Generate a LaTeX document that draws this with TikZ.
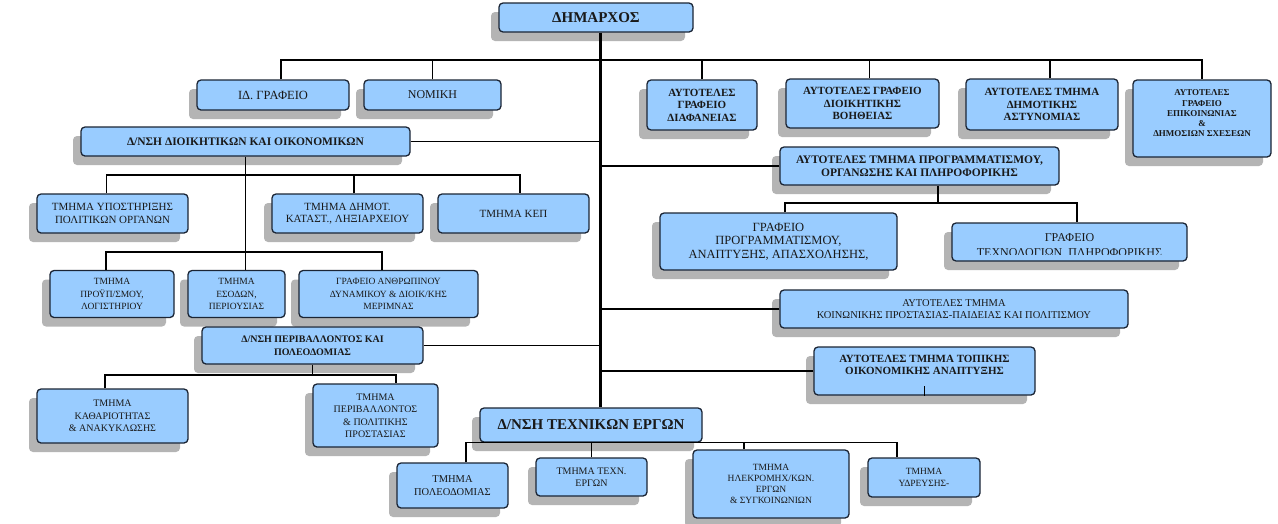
\documentclass[tikz,border=0pt]{standalone}
\usepackage{fontspec}
\setmainfont{Liberation Serif}
\usetikzlibrary{shadows}
\definecolor{boxfill}{HTML}{99CCFF}
\definecolor{boxline}{HTML}{1B2535}
\definecolor{shadowgrey}{HTML}{B4B4B4}
\tikzset{
  box/.style={draw=boxline, line width=1.3pt, fill=boxfill, rounded corners=4pt,
    inner sep=1pt, align=center, text=black!90,
    drop shadow={shadow xshift=-8pt, shadow yshift=-9pt, fill=shadowgrey, opacity=1}},
  conn/.style={line width=1.2pt, black},
  trunk/.style={line width=3pt, black},
  fb/.style 2 args={font=\fontsize{#1}{#2}\selectfont\bfseries},
  fr/.style 2 args={font=\fontsize{#1}{#2}\selectfont},
}
\begin{document}
\begin{tikzpicture}[x=1pt,y=-1pt]
\useasboundingbox (0,0) rectangle (1278,523);
\fill[white] (0,0) rectangle (1278,523);

% top level
\node[box, fb={15}{17}, minimum width=194pt, minimum height=29pt] (dim) at (596,17.5) {ΔΗΜΑΡΧΟΣ};
\node[box, fr={12.5}{14}, minimum width=152pt, minimum height=30pt] (idg) at (273,95) {ΙΔ. ΓΡΑΦΕΙΟ};
\node[box, fr={12}{14}, minimum width=137pt, minimum height=30pt] (nom) at (432.5,95) {ΝΟΜΙΚΗ};
\node[box, fb={11}{12.5}, minimum width=110pt, minimum height=50pt] (diaf) at (702,105) {ΑΥΤΟΤΕΛΕΣ\\ΓΡΑΦΕΙΟ\\ΔΙΑΦΑΝΕΙΑΣ};
\node[box, fb={11}{12.5}, minimum width=153pt, minimum height=49pt] (dioik) at (862.5,103.5) {ΑΥΤΟΤΕΛΕΣ ΓΡΑΦΕΙΟ\\ΔΙΟΙΚΗΤΙΚΗΣ\\ΒΟΗΘΕΙΑΣ};
\node[box, fb={11}{12.5}, minimum width=152pt, minimum height=51pt] (ast) at (1042,104.5) {ΑΥΤΟΤΕΛΕΣ ΤΜΗΜΑ\\ΔΗΜΟΤΙΚΗΣ\\ΑΣΤΥΝΟΜΙΑΣ};
\node[box, fb={9}{10.3}, minimum width=138pt, minimum height=77pt] (epik) at (1202,118.5) {ΑΥΤΟΤΕΛΕΣ\\ΓΡΑΦΕΙΟ\\ΕΠΙΚΟΙΝΩΝΙΑΣ\\\&\\ΔΗΜΟΣΙΩΝ ΣΧΕΣΕΩΝ\\};

% left directorate 1
\node[box, fb={11.5}{13}, minimum width=329pt, minimum height=29pt] (ddo) at (245.5,141.5) {Δ/ΝΣΗ ΔΙΟΙΚΗΤΙΚΩΝ ΚΑΙ ΟΙΚΟΝΟΜΙΚΩΝ};
\node[box, fr={11}{12.5}, minimum width=151pt, minimum height=39pt] (ypo) at (112.5,213.5) {ΤΜΗΜΑ ΥΠΟΣΤΗΡΙΞΗΣ\\ΠΟΛΙΤΙΚΩΝ ΟΡΓΑΝΩΝ};
\node[box, fr={11}{12.5}, minimum width=151pt, minimum height=39pt] (dhm) at (347.5,213.5) {ΤΜΗΜΑ ΔΗΜΟΤ.\\ΚΑΤΑΣΤ., ΛΗΞΙΑΡΧΕΙΟΥ};
\node[box, fr={11}{12.5}, minimum width=151pt, minimum height=39pt] (kep) at (513.5,213.5) {ΤΜΗΜΑ ΚΕΠ};
\node[box, fr={9.5}{12.5}, minimum width=124pt, minimum height=47pt] (prou) at (112,294) {ΤΜΗΜΑ\\ΠΡΟΫΠ/ΣΜΟΥ,\\ΛΟΓΙΣΤΗΡΙΟΥ};
\node[box, fr={9.5}{12.5}, minimum width=97pt, minimum height=47pt] (esod) at (236.5,294) {ΤΜΗΜΑ\\ΕΣΟΔΩΝ,\\ΠΕΡΙΟΥΣΙΑΣ};
\node[box, fr={9.5}{12.5}, minimum width=179pt, minimum height=47pt] (anthr) at (388.5,294) {ΓΡΑΦΕΙΟ ΑΝΘΡΩΠΙΝΟΥ\\ΔΥΝΑΜΙΚΟΥ \& ΔΙΟΙΚ/ΚΗΣ\\ΜΕΡΙΜΝΑΣ};

% left directorate 2
\node[box, fb={10}{13}, minimum width=221pt, minimum height=37pt] (per) at (312.5,345.5) {Δ/ΝΣΗ ΠΕΡΙΒΑΛΛΟΝΤΟΣ ΚΑΙ\\ΠΟΛΕΟΔΟΜΙΑΣ};
\node[box, fr={10}{12.5}, minimum width=151pt, minimum height=54pt] (kath) at (112.5,416) {ΤΜΗΜΑ\\ΚΑΘΑΡΙΟΤΗΤΑΣ\\\& ΑΝΑΚΥΚΛΩΣΗΣ};
\node[box, fr={10}{12.5}, minimum width=125pt, minimum height=63pt] (ptm) at (375.5,415.5) {ΤΜΗΜΑ\\ΠΕΡΙΒΑΛΛΟΝΤΟΣ\\\& ΠΟΛΙΤΙΚΗΣ\\ΠΡΟΣΤΑΣΙΑΣ};

% right side
\node[box, fb={11.5}{12.5}, minimum width=279pt, minimum height=38pt] (prog) at (919.5,166) {ΑΥΤΟΤΕΛΕΣ ΤΜΗΜΑ ΠΡΟΓΡΑΜΜΑΤΙΣΜΟΥ,\\ΟΡΓΑΝΩΣΗΣ ΚΑΙ ΠΛΗΡΟΦΟΡΙΚΗΣ};
\node[box, fr={12.5}{13.5}, minimum width=237pt, minimum height=57pt] (gp) at (778.5,241.5) {ΓΡΑΦΕΙΟ\\ΠΡΟΓΡΑΜΜΑΤΙΣΜΟΥ,\\ΑΝΑΠΤΥΞΗΣ, ΑΠΑΣΧΟΛΗΣΗΣ,};
\node[box, minimum width=235pt, minimum height=38pt] (tech) at (1069.5,242) {};
\begin{scope}
  \clip ([xshift=2pt,yshift=-2pt]tech.north west) rectangle ([xshift=-2pt,yshift=7pt]tech.south east);
  \node[fr={12}{15}, align=center, text=black!90, inner sep=0pt] (techtxt) at (1069.5,245.5) {ΓΡΑΦΕΙΟ\\ΤΕΧΝΟΛΟΓΙΩΝ\ \ ΠΛΗΡΟΦΟΡΙΚΗΣ};
\end{scope}
\node[box, fr={10.5}{12}, minimum width=348pt, minimum height=38pt] (koin) at (954,309) {ΑΥΤΟΤΕΛΕΣ ΤΜΗΜΑ\\ΚΟΙΝΩΝΙΚΗΣ ΠΡΟΣΤΑΣΙΑΣ-ΠΑΙΔΕΙΑΣ ΚΑΙ ΠΟΛΙΤΙΣΜΟΥ};
\node[box, fb={11}{12}, minimum width=221pt, minimum height=48pt] (top) at (924.5,371) {ΑΥΤΟΤΕΛΕΣ ΤΜΗΜΑ ΤΟΠΙΚΗΣ\\ΟΙΚΟΝΟΜΙΚΗΣ ΑΝΑΠΤΥΞΗΣ\\};

% technical directorate
\node[box, fb={15}{17}, minimum width=222pt, minimum height=34pt] (dte) at (591,425) {Δ/ΝΣΗ ΤΕΧΝΙΚΩΝ ΕΡΓΩΝ};
\node[box, fr={10.5}{12.5}, minimum width=111pt, minimum height=45pt] (pol) at (452.5,485.5) {ΤΜΗΜΑ\\ΠΟΛΕΟΔΟΜΙΑΣ};
\node[box, fr={10}{12}, minimum width=111pt, minimum height=38pt] (tex) at (591.5,477) {ΤΜΗΜΑ ΤΕΧΝ.\\ΕΡΓΩΝ};
\node[box, fr={9.5}{11}, minimum width=156pt, minimum height=68pt] (ilek) at (771,484) {ΤΜΗΜΑ\\ΗΛΕΚΡΟΜΗΧ/ΚΩΝ.\\ΕΡΓΩΝ\\\& ΣΥΓΚΟΙΝΩΝΙΩΝ};
\node[box, fr={9.5}{12}, minimum width=112pt, minimum height=39pt] (ydr) at (924,477.5) {ΤΜΗΜΑ\\ΥΔΡΕΥΣΗΣ-};

% bus coordinates
\coordinate (tk) at (600,0);
\coordinate (tb) at (0,60);
\coordinate (b1) at (0,175);
\coordinate (b2) at (0,252);
\coordinate (b3) at (0,375);
\coordinate (b4) at (0,203);

% trunk
\draw[trunk] (dim.south -| tk) -- (dte.north -| tk);

% top bus
\draw[conn] ([xshift=8pt]idg.north) |- (epik.north |- tb) -- (epik.north);
\draw[conn] (nom.north) -- (nom.north |- tb);
\draw[conn] (diaf.north) -- (diaf.north |- tb);
\draw[conn] ([xshift=7pt]dioik.north) -- ([xshift=7pt]dioik.north |- tb);
\draw[conn] ([xshift=8pt]ast.north) -- ([xshift=8pt]ast.north |- tb);

% side branches from trunk
\draw[conn] (ddo.east) -- (ddo.east -| tk);
\draw[conn] (per.east) -- (per.east -| tk);
\draw[conn] (prog.west) -- (prog.west -| tk);
\draw[conn] (koin.west) -- (koin.west -| tk);
\draw[conn] (top.west) -- (top.west -| tk);

% administrative directorate children
\draw[conn] (ddo.south) -- (ddo.south |- esod.north);
\draw[conn] ([xshift=-6pt]ypo.north) |- ([xshift=6.5pt]kep.north |- b1) -- ([xshift=6.5pt]kep.north);
\draw[conn] ([xshift=6.5pt]dhm.north) -- ([xshift=6.5pt]dhm.north |- b1);
\draw[conn] ([xshift=-6pt]prou.north) |- ([xshift=-6.5pt]anthr.north |- b2) -- ([xshift=-6.5pt]anthr.north);

% environment directorate children
\draw[conn] (per.south) -- (per.south |- b3);
\draw[conn] ([xshift=-7.5pt]kath.north) |- ([xshift=20.5pt]ptm.north |- b3) -- ([xshift=20.5pt]ptm.north);

% programming dept children
\draw[conn] ([xshift=18.5pt]prog.south) -- ([xshift=18.5pt]prog.south |- b4);
\draw[conn] ([xshift=6.5pt]gp.north) |- ([xshift=7.5pt]tech.north |- b4) -- ([xshift=7.5pt]tech.north);

% local development tick
\draw[conn] (top.south) -- ++(0,-10);

% technical directorate children
\draw[conn] ([xshift=13.5pt]pol.north) |- ([xshift=-27pt]ydr.north |- dte.south) -- ([xshift=-27pt]ydr.north);
\draw[conn] (tex.north) -- (tex.north |- dte.south);
\draw[conn] ([xshift=-27pt]ilek.north) -- ([xshift=-27pt]ilek.north |- dte.south);
\end{tikzpicture}
\end{document}
